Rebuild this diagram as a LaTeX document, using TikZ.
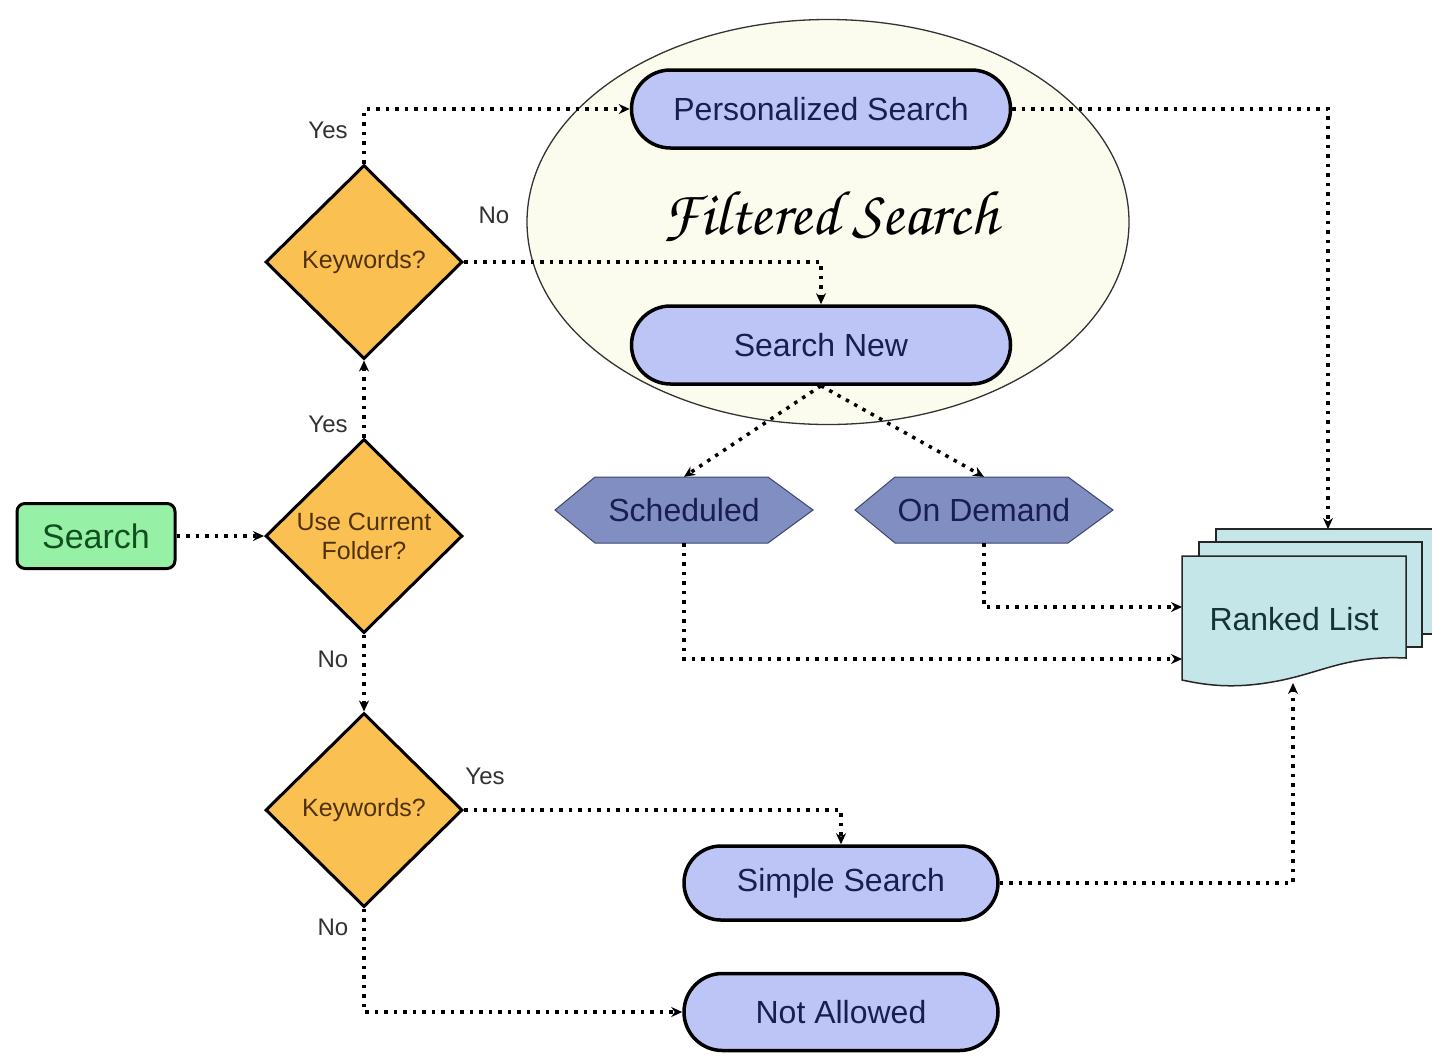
\documentclass[tikz,border=0pt]{standalone}
\usepackage[T1]{fontenc}
\usepackage{fontspec}
\setmainfont{Liberation Sans}
\usetikzlibrary{shapes.geometric,shapes.misc,arrows.meta}

% calligraphic face for the group title
\newcommand\chanceryface{\fontencoding{T1}\fontfamily{pzc}\fontseries{mb}\fontshape{it}\selectfont}

\definecolor{pillfill}{RGB}{189,197,247}
\definecolor{pilltext}{RGB}{25,30,80}
\definecolor{hexfill}{RGB}{128,142,194}
\definecolor{hexline}{RGB}{60,70,110}
\definecolor{decfill}{RGB}{251,192,82}
\definecolor{dectext}{RGB}{80,50,10}
\definecolor{startfill}{RGB}{150,240,165}
\definecolor{starttext}{RGB}{15,80,30}
\definecolor{groupfill}{RGB}{252,252,238}
\definecolor{docfill}{RGB}{197,230,232}
\definecolor{doctext}{RGB}{20,50,55}
\definecolor{labeltext}{RGB}{50,50,50}

\begin{document}
\begin{tikzpicture}[x=1pt,y=-1pt,
  pill/.style={rounded rectangle, draw=black, line width=3.5pt, fill=pillfill,
    text=pilltext, minimum width=379pt, minimum height=78pt, inner sep=0pt,
    font=\fontsize{32}{38}\selectfont},
  decision/.style={diamond, draw=black, line width=3pt, fill=decfill, text=dectext,
    minimum width=197pt, minimum height=194pt, inner sep=0pt, align=center,
    font=\fontsize{25}{29}\selectfont},
  hexshape/.style={draw=hexline, line width=1pt, fill=hexfill},
  hexlabel/.style={rectangle, minimum width=258pt, minimum height=66pt, inner sep=0pt,
    text=pilltext, font=\fontsize{32}{38}\selectfont},
  docshape/.style={draw=black!85, line width=1.5pt, fill=docfill},
  flow/.style={line width=3.5pt, dash pattern=on 3.5pt off 6pt,
    -{Stealth[length=11pt,width=10pt]}},
  answer/.style={text=labeltext, font=\fontsize{24}{28}\selectfont, inner sep=0pt}]

\fill[white] (0,0) rectangle (1432,1061);
\useasboundingbox (0,0) rectangle (1432,1061);

% filtered search group
\node[ellipse, draw=black!80, line width=1.3pt, fill=groupfill, minimum width=602pt,
  minimum height=405pt, inner sep=0pt] (filt) at (828,222) {};
\node[font=\chanceryface\fontsize{63}{70}\selectfont] (filttitle) at (830,216) {Filtered Search};

% start box
\node[rectangle, rounded corners=8pt, draw=black, line width=3pt, fill=startfill,
  text=starttext, minimum width=158pt, minimum height=65pt,
  font=\fontsize{34}{40}\selectfont] (search) at (96,536) {Search};

% decisions
\node[decision] (kw1) at (364,262) {Keywords?};
\node[decision] (ucf) at (364,536) {Use Current\\Folder?};
\node[decision] (kw2) at (364,810) {Keywords?};

% processes
\node[pill] (pers) at (821,109) {Personalized Search};
\node[pill] (snew) at (821,345) {Search New};
\node[pill, minimum width=314pt, minimum height=74pt] (simple) at (841,883) {Simple Search};
\node[pill, minimum width=314pt, minimum height=77pt] (notallowed) at (841,1012) {Not Allowed};

% preparation hexagons
\path[hexshape] (555,510) -- (595,477) -- (768,477) -- (813,510) -- (768,543) -- (595,543) -- cycle;
\node[hexlabel] (sched) at (684,510) {Scheduled};
\path[hexshape] (855,510) -- (895,477) -- (1068,477) -- (1113,510) -- (1068,543) -- (895,543) -- cycle;
\node[hexlabel] (ondemand) at (984,510) {On Demand};

% stacked documents
\begin{scope}
  \clip (0,0) rectangle (1432,1061);
  \path[docshape] (1216,529) rectangle (1445,634);
  \path[docshape] (1199,542) rectangle (1422,647);
  \path[docshape] (1182,556) -- (1406,556) -- (1406,658)
    .. controls (1345,655) and (1320,674) .. (1272,682)
    .. controls (1232,689) and (1205,685) .. (1182,680) -- cycle;
\end{scope}
\node[rectangle, minimum width=224pt, minimum height=124pt, inner sep=0pt, text=doctext,
  font=\fontsize{32}{38}\selectfont] (rank) at (1294,619) {Ranked List};
\coordinate (rtop) at (1328,529);
\coordinate (rin1) at (1182,607);
\coordinate (rin2) at (1182,659);
\coordinate (rbot) at (1293,683);

% connectors
\draw[flow] (search.east) -- (ucf.west);
\draw[flow] (ucf.north) -- (kw1.south);
\draw[flow] (kw1.north) |- (pers.west);
\draw[flow] (kw1.east) -| (snew.north);
\draw[flow] (pers.east) -| (rtop);
\draw[flow] (snew.south) -- (sched.north);
\draw[flow] (snew.south) -- (ondemand.north);
\draw[flow] (sched.south) |- (rin2);
\draw[flow] (ondemand.south) |- (rin1);
\draw[flow] (ucf.south) -- (kw2.north);
\draw[flow] (kw2.east) -| (simple.north);
\draw[flow] (kw2.south) |- (notallowed.west);
\draw[flow] (simple.east) -| (rbot);

% branch labels
\node[answer] (y1) at (328,130) {Yes};
\node[answer] (n1) at (494,215) {No};
\node[answer] (y2) at (328,424) {Yes};
\node[answer] (n2) at (333,659) {No};
\node[answer] (y3) at (485,776) {Yes};
\node[answer] (n3) at (333,927) {No};
\end{tikzpicture}
\end{document}
